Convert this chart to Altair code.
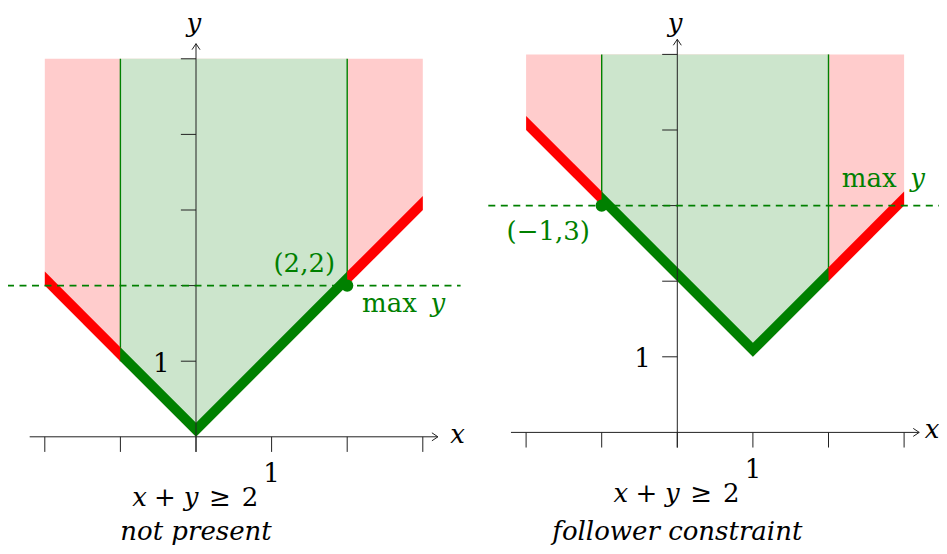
import altair as alt
import pandas as pd

# ---------------- data ----------------
BOUNDARY_X = {"left": [-2, -1, 0, 2, 3], "right": [-2, -1, 1, 2, 3]}
BOUNDARY_Y = {"left": [2, 1, 0, 2, 3], "right": [4, 3, 1, 2, 3]}
FEASIBLE_X = [-1, 2]
TOP_Y = 5
OPT_X = {"left": 2, "right": -1}
OPT_Y = {"left": 2, "right": 3}
CAPTION = {"left": "not present", "right": "follower constraint"}
CONSTRAINT = ["x", "+", "y", "≥", "2"]
CONSTRAINT_ITALIC = [True, False, True, False, False]
X_TICKS = [-2, -1, 0, 1, 2, 3]
Y_TICKS = [1, 2, 3, 4, 5]
X_TICK_LABELS = [1]
Y_TICK_LABELS = [1]

# ---------------- layout / style ----------------
FONT = "DejaVu Serif"
FS = 26
GREEN = "#008000"
RED = "#ff0000"
PINK = "#ffcccc"
LGREEN = "#cce5cc"
AXIS = "#222222"
BAND = 0.185
TOTAL_W, TOTAL_H = 931, 538
U = 75.6                                  # pixels per unit
ORIGIN = {"left": (196.0, 436.8), "right": (677.3, 432.4)}   # page pixels of (0,0)
CONSTRAINT_DX = [-0.747, -0.41, -0.066, 0.317, 0.714]
CONSTRAINT_Y = -0.92
CAPTION_Y = {"left": -1.365, "right": -1.423}
OPT_LABEL_POS = {"left": (-0.16, 0.18), "right": (-0.155, -0.455)}
MAX_POS = {"left": (2.196, 1.65), "right": (2.175, 3.25)}
MAX_Y_DX = 0.905
X_LABEL_X = {"left": 3.46, "right": 3.37}
Y_LABEL_Y = {"left": 5.35, "right": 5.30}


def fmt(v):
    return str(v).replace("-", "\u2212")


def panel(name):
    ox_px, oy_px = ORIGIN[name]
    xdom = [(8 - ox_px) / U, (8 + TOTAL_W - ox_px) / U]
    ydom = [(oy_px - 8 - TOTAL_H) / U, (oy_px - 8) / U]
    xs = alt.Scale(domain=xdom, nice=False, zero=False)
    ys = alt.Scale(domain=ydom, nice=False, zero=False)

    def X(f="x"):
        return alt.X(f"{f}:Q", scale=xs, axis=None)

    def Y(f="y"):
        return alt.Y(f"{f}:Q", scale=ys, axis=None)

    bx, by = BOUNDARY_X[name], BOUNDARY_Y[name]
    full = pd.DataFrame({"x": bx, "y": by, "top": [TOP_Y] * len(bx)})
    feas = full[(full.x >= FEASIBLE_X[0]) & (full.x <= FEASIBLE_X[1])]

    rows = []
    segs = [("a", RED, bx[0], FEASIBLE_X[0]), ("b", GREEN, FEASIBLE_X[0], FEASIBLE_X[1]),
            ("c", RED, FEASIBLE_X[1], bx[-1])]
    for sid, col, lo, hi in segs:
        for xv, yv in zip(bx, by):
            if lo <= xv <= hi:
                rows.append({"x": xv, "y": yv, "y2": yv + BAND, "seg": sid, "col": col})
    band = pd.DataFrame(rows)

    pink = alt.Chart(full).mark_area(color=PINK, opacity=1).encode(
        x=X(), y=Y(), y2="top:Q")
    green = alt.Chart(feas).mark_area(color=LGREEN, opacity=1).encode(
        x=X(), y=Y(), y2="top:Q")
    edges = alt.Chart(full[full.x.isin(FEASIBLE_X)]).mark_rule(
        color=GREEN, strokeWidth=1.4).encode(x=X(), y=Y(), y2="top:Q")
    thick = alt.Chart(band).mark_area(opacity=1).encode(
        x=X(), y=Y(), y2="y2:Q", detail="seg:N", color=alt.Color("col:N", scale=None))

    xaxis = alt.Chart(pd.DataFrame({"x": [-2.2], "x2": [3.2], "y": [0]})).mark_rule(
        color=AXIS, strokeWidth=1).encode(x=X(), x2="x2:Q", y=Y())
    yaxis = alt.Chart(pd.DataFrame({"x": [0], "y": [-0.2], "y2": [5.2]})).mark_rule(
        color=AXIS, strokeWidth=1).encode(x=X(), y=Y(), y2="y2:Q")
    xt = pd.DataFrame({"x": X_TICKS, "y": [0] * len(X_TICKS), "y2": [-0.2] * len(X_TICKS)})
    xticks = alt.Chart(xt).mark_rule(color=AXIS, strokeWidth=1).encode(
        x=X(), y=Y(), y2="y2:Q")
    yt = pd.DataFrame({"x": [-0.2] * len(Y_TICKS), "x2": [0] * len(Y_TICKS), "y": Y_TICKS})
    yticks = alt.Chart(yt).mark_rule(color=AXIS, strokeWidth=1).encode(
        x=X(), x2="x2:Q", y=Y())
    chevron = "M -1.5 -1 L 0 0 L -1.5 1"
    xarrow = alt.Chart(pd.DataFrame({"x": [3.2], "y": [0]})).mark_point(
        shape=chevron, size=64, filled=False, color=AXIS, strokeWidth=1, opacity=1).encode(
        x=X(), y=Y())
    yarrow = alt.Chart(pd.DataFrame({"x": [0], "y": [5.2]})).mark_point(
        shape=chevron, size=64, filled=False, color=AXIS, strokeWidth=1, opacity=1,
        angle=270).encode(x=X(), y=Y())

    ox, oy = OPT_X[name], OPT_Y[name]
    dash = alt.Chart(pd.DataFrame({"x": [-2.5], "x2": [3.5], "y": [oy]})).mark_rule(
        color=GREEN, strokeWidth=1.6, strokeDash=[7, 5.5]).encode(x=X(), x2="x2:Q", y=Y())
    dot = alt.Chart(pd.DataFrame({"x": [ox], "y": [oy]})).mark_circle(
        color=GREEN, size=150, opacity=1).encode(x=X(), y=Y())

    def text(t, x, y, align="center", italic=False, color="black", size=FS):
        return alt.Chart(pd.DataFrame({"x": [x], "y": [y], "t": [t]})).mark_text(
            align=align, baseline="alphabetic", font=FONT, fontSize=size,
            fontStyle="italic" if italic else "normal", color=color).encode(
            x=X(), y=Y(), text="t:N")

    labels = []
    dx, dy = OPT_LABEL_POS[name]
    labels.append(text(f"({fmt(ox)},{fmt(oy)})", ox + dx, oy + dy, align="right", color=GREEN))
    mx, my = MAX_POS[name]
    labels.append(text("max", mx, my, align="left", color=GREEN))
    labels.append(text("y", mx + MAX_Y_DX, my, align="left", italic=True, color=GREEN))
    labels.append(text("x", X_LABEL_X[name], -0.08, italic=True))
    labels.append(text("y", -0.03, Y_LABEL_Y[name], italic=True))
    for v in X_TICK_LABELS:
        labels.append(text(fmt(v), v, -0.6))
    for v in Y_TICK_LABELS:
        labels.append(text(fmt(v), -0.46, v - 0.14))
    for piece, it, cdx in zip(CONSTRAINT, CONSTRAINT_ITALIC, CONSTRAINT_DX):
        labels.append(text(piece, cdx, CONSTRAINT_Y, italic=it))
    labels.append(text(CAPTION[name], 0, CAPTION_Y[name], italic=True))

    return alt.layer(pink, green, edges, thick, xaxis, yaxis, xticks, yticks,
                     xarrow, yarrow, dash, dot, *labels)


chart = alt.layer(panel("left"), panel("right")).resolve_scale(
    x="independent", y="independent").properties(
    width=TOTAL_W, height=TOTAL_H, padding=0,
    autosize=alt.AutoSizeParams(type="none")).configure_view(stroke=None)

chart.save("out.html", embed_options={"renderer": "svg", "actions": False})
